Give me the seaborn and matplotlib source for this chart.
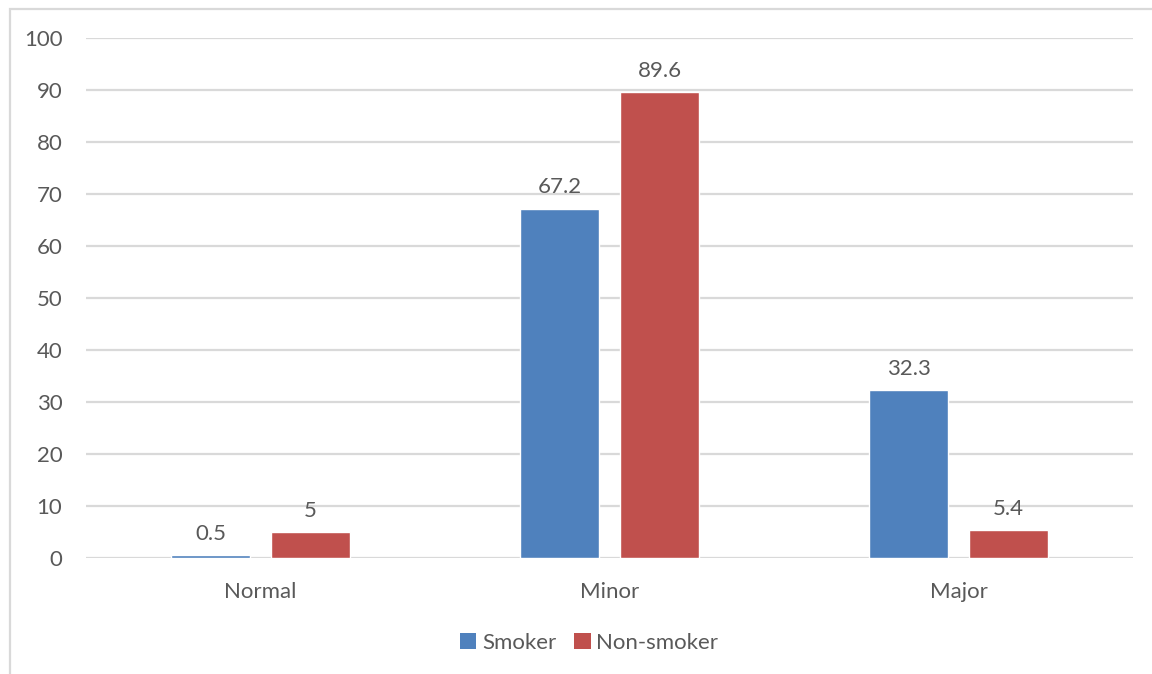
import matplotlib
matplotlib.use("Agg")
import matplotlib.pyplot as plt
from matplotlib.patches import Rectangle, Patch
import seaborn as sns
import pandas as pd

categories = ["Normal", "Minor", "Major"]
groups = ["Smoker", "Non-smoker"]
smoker = [0.5, 67.2, 32.3]
non_smoker = [5, 89.6, 5.4]
y_ticks = [0, 10, 20, 30, 40, 50, 60, 70, 80, 90, 100]

colors = {"Smoker": "#4F81BD", "Non-smoker": "#C0504D"}
text_color = "#595959"
grid_color = "#D9D9D9"
fs = 16

df = pd.DataFrame({
    "category": categories * 2,
    "group": [groups[0]] * 3 + [groups[1]] * 3,
    "value": smoker + non_smoker,
})

sns.set_theme(style="white")
plt.rcParams["font.family"] = ["Lato", "DejaVu Sans"]

W, H = 1152, 674
fig = plt.figure(figsize=(W / 100, H / 100), dpi=100)
fig.patch.set_facecolor("white")

# chart frame
fig.patches.append(Rectangle((10 / W, -0.05), 1.1, (H - 9) / H + 0.05,
                             transform=fig.transFigure, fill=False,
                             edgecolor=grid_color, linewidth=1.6, zorder=0))

left, right, top, bottom = 86, 1133, 38, 558
ax = fig.add_axes([left / W, 1 - bottom / H, (right - left) / W, (bottom - top) / H])

sns.barplot(data=df, x="category", y="value", hue="group", order=categories,
            hue_order=groups, palette=colors, width=0.573, gap=0.21,
            saturation=1, ax=ax, legend=False, zorder=3)

ax.set_ylim(0, 100)
ax.set_xlim(-0.5, 2.5)
ax.set_yticks(y_ticks)
ax.set_yticklabels([str(t) for t in y_ticks])
ax.yaxis.grid(True, color=grid_color, linewidth=1.6, zorder=0)
ax.set_axisbelow(True)
for s in ax.spines.values():
    s.set_visible(False)
ax.tick_params(axis="y", length=0, pad=17, labelsize=fs, labelcolor=text_color)
ax.tick_params(axis="x", length=0, pad=17, labelsize=fs, labelcolor=text_color)
ax.set_xlabel("")
ax.set_ylabel("")

for cont in ax.containers:
    ax.bar_label(cont, labels=[f"{v:g}" for v in cont.datavalues], padding=8,
                 fontsize=fs, color=text_color)

handles = [Patch(facecolor=colors[g], edgecolor="none") for g in groups]
fig.legend(handles, groups, loc="center", bbox_to_anchor=(589 / W, 1 - 643 / H),
           ncol=2, frameon=False, fontsize=fs, labelcolor=text_color,
           handlelength=0.75, handleheight=0.75, handletextpad=0.25, columnspacing=0.8)

fig.savefig("out.png", dpi=100)
